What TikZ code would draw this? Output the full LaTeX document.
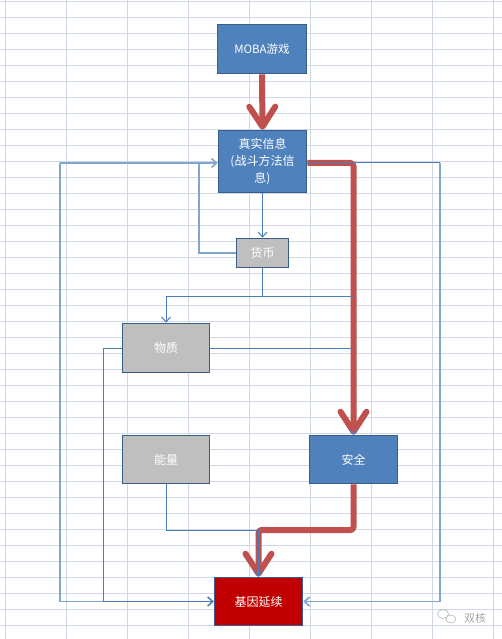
\documentclass[tikz,border=0pt]{standalone}
\usepackage{fontspec}
\setmainfont{Noto Sans CJK SC}
\newfontfamily\cjk{Noto Sans CJK SC}
\usetikzlibrary{arrows.meta,shapes.geometric}
\definecolor{gridc}{HTML}{D0D7E5}
\definecolor{boxblue}{HTML}{4F81BD}
\definecolor{boxedge}{HTML}{385D8A}
\definecolor{boxgray}{HTML}{BFBFBF}
\definecolor{boxred}{HTML}{C00000}
\definecolor{redline}{HTML}{C0504D}
\definecolor{connblue}{HTML}{4A7EBB}
\tikzset{
  box/.style={draw=boxedge, line width=1.6pt, rectangle, text=white, font=\cjk\fontsize{12}{16.7}\selectfont, align=center, inner sep=0pt},
  bluebox/.style={box, fill=boxblue},
  graybox/.style={box, fill=boxgray},
  redbox/.style={box, fill=boxred},
  bigred/.style={draw=redline, line width=6pt, rounded corners=3pt, line join=round},
  bigtip/.style={-{Straight Barb[length=20pt,width=26pt,round]}},
  conn/.style={draw=connblue, line width=1pt},
  lconn/.style={draw=connblue!70, line width=1.6pt},
  smalltip/.style={-{Straight Barb[length=5pt,width=9pt]}},
}
\begin{document}
\begin{tikzpicture}[x=1pt,y=-1pt]
\useasboundingbox (0,0) rectangle (502,639);
\fill[white] (0,0) rectangle (502,639);
% Excel grid
\foreach \i in {0,...,8} {\draw[gridc, line width=1pt] ({5.3+61*\i},0) -- ({5.3+61*\i},639);}
\foreach \j in {0,...,39} {\draw[gridc, line width=1pt] (0,{1.3+16*\j}) -- (502,{1.3+16*\j});}

% boxes
\node[bluebox, minimum width=89pt, minimum height=49pt, font=\cjk\fontsize{11.5}{14}\selectfont] (moba) at (262,49) {MOBA游戏};
\node[bluebox, minimum width=88pt, minimum height=62pt] (real) at (262.5,161.5) {真实信息\\(战斗方法信\\息)};
\node[graybox, minimum width=52pt, minimum height=29pt] (money) at (262.5,253) {货币};
\node[graybox, minimum width=87pt, minimum height=49pt] (matter) at (166,348) {物质};
\node[graybox, minimum width=87pt, minimum height=48pt] (energy) at (166,459.5) {能量};
\node[bluebox, minimum width=88pt, minimum height=48pt] (safe) at (353.5,459.5) {安全};
\node[redbox, minimum width=88pt, minimum height=48pt] (gene) at (258.5,601.5) {基因延续};

% coordinates
\coordinate (realE) at ([yshift=-1.5pt]real.east);
\coordinate (realW) at ([yshift=-1.5pt]real.west);
\coordinate (jm) at (262.5,296);
\coordinate (jl) at (199,163);
\coordinate (ol) at (60,163);
\coordinate (orr) at (440,163);
\coordinate (ml) at (103,348);
\coordinate (mr) at (352,348);
\coordinate (jr) at (353.5,530);
\coordinate (je) at (166,530);

% red thick connectors
\draw[bigred, bigtip] (moba.south) -- (real.north);
\draw[bigred, bigtip] (realE) -| (safe.north);
\draw[bigred, bigtip] (safe.south) -- (jr) -| (gene.north);

% blue connectors
\draw[conn, smalltip] (real.south) -- (money.north);
\draw[conn] (money.south) -- (jm);
\draw[conn, smalltip] (jm) -| (matter.north);
\draw[conn, smalltip] (jm) -| (safe.north);
\draw[lconn, smalltip] (money.west) -| (jl) -- (realW);
\draw[lconn] (jl) -- (ol);
\draw[lconn, smalltip] (ol) |- (gene.west);
\draw[conn, smalltip] (matter.west) -- (ml) |- (gene.west);
\draw[conn] (matter.east) -- (mr);
\draw[conn] (realE) -- (orr);
\draw[lconn, smalltip] (orr) |- (gene.east);
\draw[conn, smalltip] (energy.south) -- (je) -| (gene.north);

% watermark
\node[draw=gray!60, ellipse, minimum width=11pt, minimum height=9pt, inner sep=0pt, line width=0.6pt] (wc1) at (443,614) {};
\node[draw=gray!60, fill=white, ellipse, minimum width=10pt, minimum height=8pt, inner sep=0pt, line width=0.6pt] (wc2) at (451,619) {};
\node[text=gray!70, font=\cjk\fontsize{11}{13}\selectfont, inner sep=0pt] (wm) at (475,618) {双核};
\end{tikzpicture}
\end{document}
